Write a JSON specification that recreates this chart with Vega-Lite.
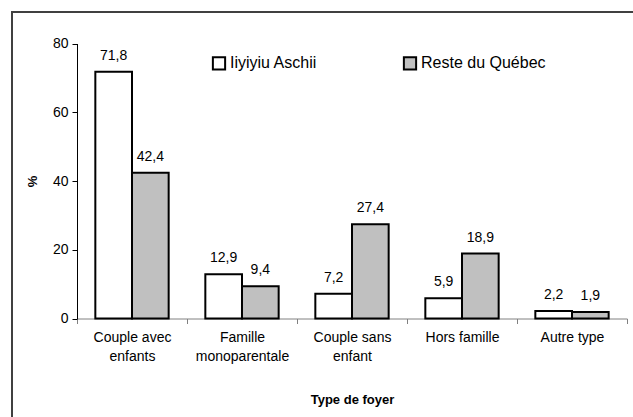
{
  "$schema": "https://vega.github.io/schema/vega-lite/v6.json",
  "width": 623,
  "height": 407,
  "autosize": {"type": "none"},
  "padding": {"left": 12, "top": 12, "right": -2, "bottom": -2},
  "background": "white",
  "config": {
    "font": "Liberation Sans",
    "view": {"stroke": "#404040", "strokeWidth": 2},
    "locale": {"number": {"decimal": ",", "thousands": " ", "grouping": [3], "currency": ["", " $"]}}
  },
  "data": {
    "values": [
      {"type": "Couple avec enfants", "groupe": "Iiyiyiu Aschii", "pct": 71.8},
      {"type": "Couple avec enfants", "groupe": "Reste du Québec", "pct": 42.4},
      {"type": "Famille monoparentale", "groupe": "Iiyiyiu Aschii", "pct": 12.9},
      {"type": "Famille monoparentale", "groupe": "Reste du Québec", "pct": 9.4},
      {"type": "Couple sans enfant", "groupe": "Iiyiyiu Aschii", "pct": 7.2},
      {"type": "Couple sans enfant", "groupe": "Reste du Québec", "pct": 27.4},
      {"type": "Hors famille", "groupe": "Iiyiyiu Aschii", "pct": 5.9},
      {"type": "Hors famille", "groupe": "Reste du Québec", "pct": 18.9},
      {"type": "Autre type", "groupe": "Iiyiyiu Aschii", "pct": 2.2},
      {"type": "Autre type", "groupe": "Reste du Québec", "pct": 1.9}
    ]
  },
  "encoding": {
    "x": {
      "field": "type",
      "type": "nominal",
      "sort": ["Couple avec enfants", "Famille monoparentale", "Couple sans enfant", "Hors famille", "Autre type"],
      "scale": {"range": [65, 615], "paddingInner": 0, "paddingOuter": 0},
      "axis": {
        "title": "Type de foyer",
        "titleFontWeight": "bold",
        "titleFontSize": 13,
        "titleColor": "black",
        "titlePadding": 30,
        "labelAngle": 0,
        "labelFontSize": 14,
        "labelColor": "black",
        "labelPadding": 7,
        "labelLineHeight": 19,
        "labelExpr": "datum.label == 'Couple avec enfants' ? ['Couple avec', 'enfants'] : datum.label == 'Famille monoparentale' ? ['Famille', 'monoparentale'] : datum.label == 'Couple sans enfant' ? ['Couple sans', 'enfant'] : datum.label",
        "domainColor": "#808080",
        "tickColor": "#808080",
        "tickSize": 5,
        "tickBand": "extent",
        "offset": -100.5
      }
    },
    "xOffset": {
      "field": "groupe",
      "sort": ["Iiyiyiu Aschii", "Reste du Québec"],
      "scale": {"paddingOuter": 0.5, "paddingInner": 0}
    },
    "y": {
      "field": "pct",
      "type": "quantitative",
      "scale": {"domain": [0, 80], "range": [306.5, 31.5], "nice": false},
      "axis": {
        "title": "%",
        "titleFontWeight": "bold",
        "titleFontSize": 13,
        "titleColor": "black",
        "titlePadding": 13,
        "values": [0, 20, 40, 60, 80],
        "grid": false,
        "domainColor": "black",
        "tickColor": "black",
        "tickSize": 5,
        "labelFontSize": 14,
        "labelColor": "black",
        "labelPadding": 4,
        "offset": -65
      }
    }
  },
  "layer": [
    {
      "mark": {"type": "bar", "stroke": "black", "strokeWidth": 2},
      "encoding": {
        "fill": {
          "field": "groupe",
          "type": "nominal",
          "scale": {"domain": ["Iiyiyiu Aschii", "Reste du Québec"], "range": ["white", "#c0c0c0"]},
          "legend": {
            "title": null,
            "orient": "none",
            "legendX": 199,
            "legendY": 43,
            "direction": "horizontal",
            "columns": 2,
            "columnPadding": 81,
            "symbolType": "square",
            "symbolSize": 150,
            "symbolStrokeColor": "black",
            "symbolStrokeWidth": 2,
            "labelFontSize": 16,
            "labelOffset": 3,
            "labelColor": "black"
          }
        }
      }
    },
    {
      "mark": {"type": "text", "baseline": "bottom", "dy": -9, "fontSize": 14, "color": "black"},
      "encoding": {
        "text": {"field": "pct", "type": "quantitative", "format": ".1f"}
      }
    }
  ]
}
